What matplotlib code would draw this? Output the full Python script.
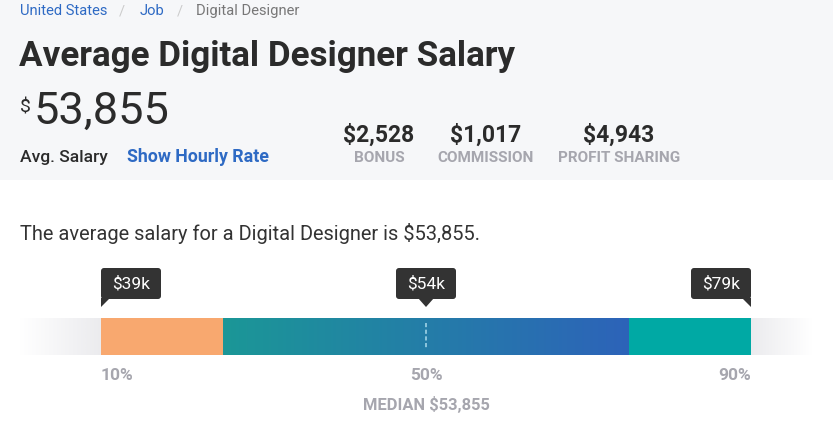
import matplotlib
matplotlib.use('Agg')
import matplotlib.pyplot as plt
import numpy as np
from matplotlib.patches import Rectangle, FancyBboxPatch, Polygon
from matplotlib.colors import to_rgb

# salary data
job = 'Digital Designer'
avg_salary = '53,855'
extras = ['$2,528', '$1,017', '$4,943']
extra_labels = ['BONUS', 'COMMISSION', 'PROFIT SHARING']
pct_ticks = [10, 50, 90]
pct_labels = ['10%', '50%', '90%']
tip_labels = ['$39k', '$54k', '$79k']
seg_low = [10, 25]      # orange segment
seg_mid = [25, 75]      # gradient segment
seg_high = [75, 90]     # teal segment
median_pct = 50

W, H = 833, 422
plt.rcParams['font.family'] = ['Roboto', 'DejaVu Sans']
fig = plt.figure(figsize=(W / 100, H / 100), dpi=100)
fig.patch.set_facecolor('white')

def px(x, y):
    return x / W, 1 - y / H

# header background
fig.add_artist(Rectangle((0, 1 - 180 / H), 1, 180 / H, transform=fig.transFigure,
                         facecolor='#f6f7f9', edgecolor='none', zorder=0))

blue = '#2e6ac4'
dark = '#2b2b2b'
grey = '#a6a6ae'

# breadcrumb
fig.text(*px(20, 15), 'United States', color=blue, fontsize=10.6, va='baseline')
fig.text(*px(119, 15), '/', color='#cccccc', fontsize=10.6, va='baseline')
fig.text(*px(140, 15), 'Job', color=blue, fontsize=10.6, va='baseline')
fig.text(*px(177, 15), '/', color='#cccccc', fontsize=10.6, va='baseline')
fig.text(*px(196, 15), job, color='#777777', fontsize=10.6, va='baseline')

fig.text(*px(19, 66), f'Average {job} Salary', color=dark, fontsize=25.2,
         fontweight='bold', va='baseline')
fig.text(*px(20, 113), '$', color=dark, fontsize=14, va='baseline')
fig.text(*px(34, 124), avg_salary, color=dark, fontsize=32.5, fontweight='normal', va='baseline')
fig.text(*px(20, 162), 'Avg. Salary', color=dark, fontsize=12.6, fontweight='medium', va='baseline')
fig.text(*px(127, 162), 'Show Hourly Rate', color=blue, fontsize=12.8, fontweight='bold', va='baseline')

for cx, val, lab in zip([379, 486, 619], extras, extra_labels):
    fig.text(*px(cx, 142), val, color=dark, fontsize=16.5, fontweight='bold',
             ha='center', va='baseline')
    fig.text(*px(cx, 162), lab, color=grey, fontsize=11, fontweight='bold',
             ha='center', va='baseline')

fig.text(*px(20, 240), f'The average salary for a {job} is ${avg_salary}.',
         color='#333333', fontsize=14.4, va='baseline')

# bar axes: x in percentile, y in pixels
x0, x1 = 19.75, 832.25
ppu = (x1 - x0) / 100.0
ax = fig.add_axes([x0 / W, 0, (x1 - x0) / W, (H - 250) / H])
ax.set_xlim(0, 100)
ax.set_ylim(H, 250)
ax.axis('off')
ax.patch.set_visible(False)

bar_top, bar_bot = 318, 355

def hgrad(c_left, c_right, n=256):
    a = np.array(to_rgb(c_left))
    b = np.array(to_rgb(c_right))
    t = np.linspace(0, 1, n)[None, :, None]
    return a + (b - a) * t

fade = '#ebebee'
ax.imshow(hgrad('white', fade), extent=(0, seg_low[0], bar_bot, bar_top), aspect='auto', zorder=1)
ax.imshow(hgrad(fade, 'white'), extent=(seg_high[1], 97.5, bar_bot, bar_top), aspect='auto', zorder=1)
ax.add_patch(Rectangle((seg_low[0], bar_top), seg_low[1] - seg_low[0], bar_bot - bar_top,
                       facecolor='#f8a86f', edgecolor='none', zorder=2))
ax.imshow(hgrad('#1b9797', '#2d63b9'), extent=(seg_mid[0], seg_mid[1], bar_bot, bar_top),
          aspect='auto', zorder=2)
ax.add_patch(Rectangle((seg_high[0], bar_top), seg_high[1] - seg_high[0], bar_bot - bar_top,
                       facecolor='#00a9a4', edgecolor='none', zorder=2))
ax.plot([median_pct, median_pct], [323, 349], color='#9fd3e6', lw=1.2,
        linestyle=(0, (2.5, 1.5)), zorder=3)

# tooltips
box_w, box_top, box_bot, tip_y = 60, 268, 299, 307
for p, lab, anchor in zip(pct_ticks, tip_labels, ['left', 'center', 'right']):
    if anchor == 'left':
        left = p
        tri = [(p, box_bot - 1), (p, tip_y), (p + 9 / ppu, box_bot - 1)]
    elif anchor == 'right':
        left = p - box_w / ppu
        tri = [(p, box_bot - 1), (p, tip_y), (p - 9 / ppu, box_bot - 1)]
    else:
        left = p - box_w / 2 / ppu
        tri = [(p - 8 / ppu, box_bot - 1), (p, tip_y), (p + 8 / ppu, box_bot - 1)]
    ax.add_patch(FancyBboxPatch((left, box_top), box_w / ppu, box_bot - box_top,
                                boxstyle=f'round,pad=0,rounding_size={3 / ppu}',
                                mutation_aspect=ppu, facecolor='#333333',
                                edgecolor='none', zorder=4))
    ax.add_patch(Polygon(tri, closed=True, facecolor='#333333', edgecolor='none', zorder=4))
    ax.text(left + box_w / 2 / ppu, 289, lab, color='white', fontsize=12.5,
            ha='center', va='baseline', zorder=5)

for p, lab, ha in zip(pct_ticks, pct_labels, ['left', 'center', 'right']):
    ax.text(p, 380, lab, color=grey, fontsize=12.5, fontweight='bold', ha=ha, va='baseline')
ax.text(median_pct, 410, f'MEDIAN ${avg_salary}', color=grey, fontsize=11.9,
        fontweight='bold', ha='center', va='baseline')

fig.savefig('out.png', dpi=100)
